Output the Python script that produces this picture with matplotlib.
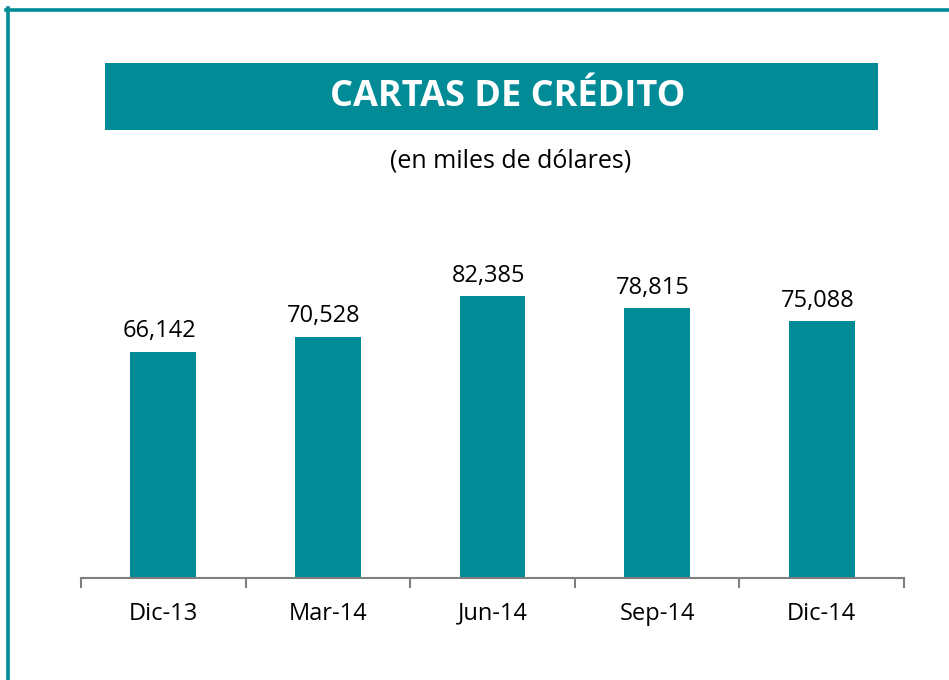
import matplotlib
matplotlib.use("Agg")
import matplotlib.pyplot as plt
from matplotlib.patches import Rectangle
from matplotlib.lines import Line2D

categories = ["Dic-13", "Mar-14", "Jun-14", "Sep-14", "Dic-14"]
values = [66142, 70528, 82385, 78815, 75088]
title = "CARTAS DE CRÉDITO"
subtitle = "(en miles de dólares)"

TEAL = "#008B96"
W, H = 949, 680
fig = plt.figure(figsize=(W / 100, H / 100), dpi=100)
fig.patch.set_facecolor("white")

# frame lines (left and top)
fig.add_artist(Line2D([7.5 / W, 7.5 / W], [0, 1 - 8 / H], color=TEAL, lw=2.6, transform=fig.transFigure))
fig.add_artist(Line2D([6 / W, 1], [1 - 9.5 / H, 1 - 9.5 / H], color=TEAL, lw=2.6, transform=fig.transFigure))

# title banner
fig.add_artist(Rectangle((105 / W, 1 - 130 / H), (878 - 105) / W, (130 - 63) / H,
                         facecolor=TEAL, edgecolor="none", transform=fig.transFigure))
fig.text(508 / W, 1 - 97 / H, title, color="white", fontsize=26, fontweight="bold",
         family="Open Sans", ha="center", va="center")
fig.text(511 / W, 1 - 161 / H, subtitle, color="black", fontsize=18,
         family="Open Sans", ha="center", va="center")

ax = fig.add_axes([81 / W, 1 - 578 / H, (904 - 81) / W, (578 - 270) / H])
x = list(range(len(categories)))
bars = ax.bar(x, values, width=0.4, color=TEAL)
ax.set_xlim(-0.5, len(categories) - 0.5)
ax.set_ylim(0, 90000)
for b, v in zip(bars, values):
    ax.annotate(f"{v:,}", (b.get_x() + b.get_width() / 2, v), xytext=(-3, 6),
                textcoords="offset points", ha="center", va="bottom",
                fontsize=17, family="Open Sans", color="black")
ax.set_xticks(x)
ax.set_xticklabels(categories, fontsize=17, family="Open Sans")
ax.tick_params(axis="x", length=0, pad=17)
ax.set_xticks([i - 0.5 for i in range(len(categories) + 1)], minor=True)
ax.tick_params(axis="x", which="minor", length=7, width=1.5, color="#7f7f7f", direction="out")
ax.set_yticks([])
for s in ["top", "right", "left"]:
    ax.spines[s].set_visible(False)
ax.spines["bottom"].set_color("#7f7f7f")
ax.spines["bottom"].set_linewidth(1.5)

fig.savefig("out.png", dpi=100)
